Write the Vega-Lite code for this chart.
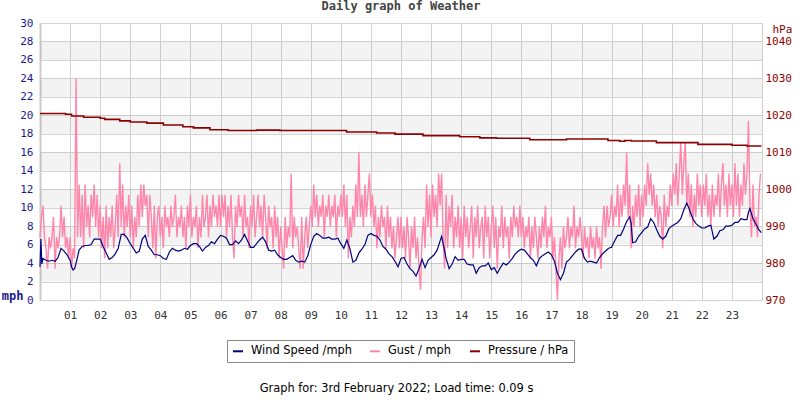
{
  "$schema": "https://vega.github.io/schema/vega-lite/v6.json",
  "width": 722,
  "height": 277,
  "autosize": {"type": "none"},
  "padding": {"left": 40, "top": 23, "right": 38, "bottom": 100},
  "background": "white",
  "title": {"text": "Daily graph of Weather", "font": "DejaVu Sans Mono", "fontSize": 12, "fontWeight": "bold", "color": "#444444", "anchor": "middle", "offset": 4},
  "config": {
    "view": {"stroke": "#d0d0d0", "strokeWidth": 1},
    "axis": {"gridColor": "#d3d3d3", "gridWidth": 1, "ticks": false, "domain": false, "labelFont": "DejaVu Sans Mono", "labelFontSize": 11, "labelOverlap": false, "labelBound": false, "labelFlush": false}
  },
  "datasets": {
    "bands": [{"lo": 2, "hi": 4}, {"lo": 6, "hi": 8}, {"lo": 10, "hi": 12}, {"lo": 14, "hi": 16}, {"lo": 18, "hi": 20}, {"lo": 22, "hi": 24}, {"lo": 26, "hi": 28}],
    "wind": [
      {"h":0,"v":3.6},{"h":0.03,"v":6.6},{"h":0.06,"v":3.9},{"h":0.1,"v":4.5},{"h":0.2,"v":4.3},{"h":0.3,"v":4.2},{"h":0.4,"v":4.3},{"h":0.5,"v":4.2},{"h":0.6,"v":4.6},{"h":0.7,"v":5.6},{"h":0.8,"v":5.3},{"h":0.9,"v":4.9},
      {"h":1.0,"v":4.3},{"h":1.05,"v":3.6},{"h":1.1,"v":3.25},{"h":1.15,"v":3.4},{"h":1.2,"v":4.0},{"h":1.3,"v":5.4},{"h":1.4,"v":5.8},{"h":1.5,"v":5.9},{"h":1.6,"v":5.9},{"h":1.7,"v":6.0},{"h":1.8,"v":6.6},{"h":1.9,"v":6.6},
      {"h":2.0,"v":6.6},{"h":2.1,"v":5.8},{"h":2.2,"v":5.1},{"h":2.3,"v":4.4},{"h":2.4,"v":4.6},{"h":2.5,"v":5.0},{"h":2.6,"v":5.6},{"h":2.7,"v":7.1},{"h":2.8,"v":7.1},{"h":2.9,"v":6.7},
      {"h":3.0,"v":6.1},{"h":3.1,"v":5.6},{"h":3.2,"v":5.1},{"h":3.3,"v":5.3},{"h":3.4,"v":6.6},{"h":3.5,"v":7.0},{"h":3.6,"v":5.8},{"h":3.7,"v":5.4},{"h":3.8,"v":4.9},{"h":3.9,"v":4.9},
      {"h":4.0,"v":4.8},{"h":4.1,"v":4.5},{"h":4.2,"v":4.4},{"h":4.3,"v":5.2},{"h":4.4,"v":5.6},{"h":4.5,"v":5.4},{"h":4.6,"v":5.3},{"h":4.7,"v":5.4},{"h":4.8,"v":5.6},{"h":4.9,"v":5.5},
      {"h":5.0,"v":5.9},{"h":5.1,"v":6.1},{"h":5.2,"v":6.1},{"h":5.3,"v":5.8},{"h":5.4,"v":5.3},{"h":5.5,"v":5.7},{"h":5.6,"v":5.9},{"h":5.7,"v":6.3},{"h":5.8,"v":6.1},{"h":5.9,"v":6.6},
      {"h":6.0,"v":7.0},{"h":6.1,"v":6.9},{"h":6.2,"v":6.7},{"h":6.3,"v":6.0},{"h":6.4,"v":6.0},{"h":6.5,"v":6.4},{"h":6.6,"v":6.1},{"h":6.7,"v":6.5},{"h":6.8,"v":7.1},{"h":6.9,"v":6.4},
      {"h":7.0,"v":5.7},{"h":7.1,"v":5.7},{"h":7.2,"v":6.1},{"h":7.3,"v":6.5},{"h":7.4,"v":6.8},{"h":7.5,"v":6.3},{"h":7.6,"v":5.4},{"h":7.7,"v":5.3},{"h":7.8,"v":5.4},{"h":7.9,"v":4.9},
      {"h":8.0,"v":4.6},{"h":8.1,"v":4.4},{"h":8.2,"v":4.4},{"h":8.3,"v":4.6},{"h":8.4,"v":4.8},{"h":8.5,"v":4.3},{"h":8.6,"v":4.1},{"h":8.7,"v":4.2},{"h":8.8,"v":4.1},{"h":8.9,"v":4.8},
      {"h":9.0,"v":6.0},{"h":9.1,"v":6.9},{"h":9.2,"v":7.2},{"h":9.3,"v":7.0},{"h":9.4,"v":6.7},{"h":9.5,"v":6.7},{"h":9.6,"v":6.8},{"h":9.7,"v":6.6},{"h":9.8,"v":6.6},{"h":9.9,"v":6.7},
      {"h":10.0,"v":6.1},{"h":10.1,"v":5.6},{"h":10.2,"v":6.5},{"h":10.3,"v":5.6},{"h":10.4,"v":4.1},{"h":10.5,"v":4.3},{"h":10.6,"v":5.1},{"h":10.7,"v":5.5},{"h":10.8,"v":6.0},{"h":10.9,"v":7.0},
      {"h":11.0,"v":7.2},{"h":11.1,"v":7.0},{"h":11.2,"v":6.9},{"h":11.3,"v":6.5},{"h":11.4,"v":5.8},{"h":11.5,"v":5.5},{"h":11.6,"v":5.0},{"h":11.7,"v":4.7},{"h":11.8,"v":4.2},{"h":11.9,"v":3.6},
      {"h":12.0,"v":4.5},{"h":12.1,"v":4.6},{"h":12.2,"v":3.9},{"h":12.3,"v":3.4},{"h":12.4,"v":3.1},{"h":12.5,"v":2.6},{"h":12.6,"v":3.4},{"h":12.7,"v":4.4},{"h":12.8,"v":3.5},{"h":12.9,"v":4.3},
      {"h":13.0,"v":4.6},{"h":13.1,"v":4.9},{"h":13.2,"v":5.4},{"h":13.3,"v":6.4},{"h":13.35,"v":6.9},{"h":13.4,"v":6.1},{"h":13.5,"v":4.5},{"h":13.6,"v":3.4},{"h":13.7,"v":3.9},{"h":13.8,"v":4.7},{"h":13.9,"v":4.3},
      {"h":14.0,"v":4.4},{"h":14.1,"v":4.4},{"h":14.2,"v":3.9},{"h":14.3,"v":3.8},{"h":14.4,"v":3.8},{"h":14.5,"v":2.9},{"h":14.6,"v":3.5},{"h":14.7,"v":3.7},{"h":14.8,"v":3.7},{"h":14.9,"v":4.0},
      {"h":15.0,"v":3.3},{"h":15.1,"v":3.5},{"h":15.2,"v":2.9},{"h":15.3,"v":3.5},{"h":15.4,"v":4.0},{"h":15.5,"v":3.8},{"h":15.6,"v":4.1},{"h":15.7,"v":4.5},{"h":15.8,"v":5.0},{"h":15.9,"v":5.3},
      {"h":16.0,"v":5.5},{"h":16.1,"v":5.4},{"h":16.2,"v":5.0},{"h":16.3,"v":4.6},{"h":16.4,"v":4.3},{"h":16.5,"v":3.7},{"h":16.6,"v":4.5},{"h":16.7,"v":4.8},{"h":16.8,"v":5.0},{"h":16.9,"v":5.2},
      {"h":17.0,"v":4.9},{"h":17.1,"v":4.2},{"h":17.2,"v":2.9},{"h":17.3,"v":2.2},{"h":17.4,"v":2.9},{"h":17.5,"v":4.1},{"h":17.6,"v":4.4},{"h":17.7,"v":4.8},{"h":17.8,"v":5.2},{"h":17.9,"v":5.5},
      {"h":18.0,"v":5.5},{"h":18.1,"v":4.5},{"h":18.2,"v":4.1},{"h":18.3,"v":4.2},{"h":18.4,"v":4.1},{"h":18.5,"v":4.0},{"h":18.6,"v":4.6},{"h":18.7,"v":5.0},{"h":18.8,"v":5.3},{"h":18.9,"v":5.6},
      {"h":19.0,"v":5.7},{"h":19.1,"v":6.4},{"h":19.2,"v":7.0},{"h":19.3,"v":7.0},{"h":19.4,"v":7.7},{"h":19.5,"v":8.5},{"h":19.6,"v":9.0},{"h":19.65,"v":8.3},{"h":19.7,"v":6.2},{"h":19.8,"v":6.3},{"h":19.9,"v":6.9},
      {"h":20.0,"v":7.3},{"h":20.1,"v":7.7},{"h":20.2,"v":7.9},{"h":20.3,"v":8.8},{"h":20.4,"v":8.4},{"h":20.5,"v":7.6},{"h":20.6,"v":6.9},{"h":20.7,"v":6.6},{"h":20.8,"v":6.9},{"h":20.9,"v":7.7},
      {"h":21.0,"v":8.0},{"h":21.1,"v":8.2},{"h":21.2,"v":8.4},{"h":21.3,"v":8.8},{"h":21.4,"v":9.75},{"h":21.5,"v":10.5},{"h":21.6,"v":9.7},{"h":21.7,"v":8.8},{"h":21.8,"v":8.3},{"h":21.9,"v":8.0},
      {"h":22.0,"v":7.8},{"h":22.1,"v":7.8},{"h":22.2,"v":8.0},{"h":22.3,"v":8.1},{"h":22.4,"v":6.6},{"h":22.5,"v":6.9},{"h":22.6,"v":7.5},{"h":22.7,"v":7.6},{"h":22.8,"v":8.0},{"h":22.9,"v":8.0},
      {"h":23.0,"v":8.1},{"h":23.1,"v":8.4},{"h":23.2,"v":8.4},{"h":23.3,"v":8.8},{"h":23.4,"v":8.7},{"h":23.5,"v":8.7},{"h":23.55,"v":9.5},{"h":23.6,"v":9.9},{"h":23.7,"v":8.8},{"h":23.8,"v":8.2},{"h":23.9,"v":7.6},{"h":23.98,"v":7.3}
    ],
    "gust": [
      {"h":0.00,"v":6.8},{"h":0.05,"v":9.0},{"h":0.10,"v":10.2},{"h":0.15,"v":6.8},{"h":0.20,"v":5.6},{"h":0.25,"v":3.4},{"h":0.30,"v":6.8},{"h":0.35,"v":5.6},{"h":0.40,"v":6.8},{"h":0.45,"v":9.0},{"h":0.50,"v":3.4},{"h":0.55,"v":6.8},{"h":0.60,"v":5.6},{"h":0.65,"v":6.8},{"h":0.70,"v":10.2},{"h":0.75,"v":6.8},{"h":0.80,"v":9.0},{"h":0.85,"v":5.6},{"h":0.90,"v":6.8},{"h":0.95,"v":4.5},
      {"h":1.00,"v":6.8},{"h":1.05,"v":3.4},{"h":1.10,"v":5.6},{"h":1.15,"v":4.5},{"h":1.20,"v":24.0},{"h":1.25,"v":6.8},{"h":1.30,"v":12.5},{"h":1.35,"v":6.8},{"h":1.40,"v":11.4},{"h":1.45,"v":5.6},{"h":1.50,"v":12.5},{"h":1.55,"v":7.9},{"h":1.60,"v":10.2},{"h":1.65,"v":6.8},{"h":1.70,"v":11.4},{"h":1.75,"v":9.0},{"h":1.80,"v":12.5},{"h":1.85,"v":7.9},{"h":1.90,"v":11.4},{"h":1.95,"v":6.8},
      {"h":2.00,"v":10.2},{"h":2.05,"v":5.6},{"h":2.10,"v":9.0},{"h":2.15,"v":4.5},{"h":2.20,"v":10.2},{"h":2.25,"v":5.6},{"h":2.30,"v":9.0},{"h":2.35,"v":6.8},{"h":2.40,"v":10.2},{"h":2.45,"v":5.6},{"h":2.50,"v":7.9},{"h":2.55,"v":11.4},{"h":2.60,"v":6.8},{"h":2.65,"v":14.8},{"h":2.70,"v":7.9},{"h":2.75,"v":12.5},{"h":2.80,"v":6.8},{"h":2.85,"v":10.2},{"h":2.90,"v":7.9},{"h":2.95,"v":11.4},
      {"h":3.00,"v":6.8},{"h":3.05,"v":10.2},{"h":3.10,"v":5.6},{"h":3.15,"v":9.0},{"h":3.20,"v":6.8},{"h":3.25,"v":11.4},{"h":3.30,"v":7.9},{"h":3.35,"v":12.5},{"h":3.40,"v":9.0},{"h":3.45,"v":12.5},{"h":3.50,"v":10.2},{"h":3.55,"v":11.4},{"h":3.60,"v":6.8},{"h":3.65,"v":11.4},{"h":3.70,"v":9.0},{"h":3.75,"v":5.6},{"h":3.80,"v":10.2},{"h":3.85,"v":4.5},{"h":3.90,"v":9.0},{"h":3.95,"v":10.2},
      {"h":4.00,"v":6.8},{"h":4.05,"v":9.0},{"h":4.10,"v":5.6},{"h":4.15,"v":10.2},{"h":4.20,"v":7.9},{"h":4.25,"v":9.0},{"h":4.30,"v":6.8},{"h":4.35,"v":10.2},{"h":4.40,"v":7.9},{"h":4.45,"v":9.0},{"h":4.50,"v":11.4},{"h":4.55,"v":6.8},{"h":4.60,"v":9.0},{"h":4.65,"v":7.9},{"h":4.70,"v":10.2},{"h":4.75,"v":6.8},{"h":4.80,"v":9.0},{"h":4.85,"v":5.6},{"h":4.90,"v":10.2},{"h":4.95,"v":7.9},
      {"h":5.00,"v":11.4},{"h":5.05,"v":6.8},{"h":5.10,"v":9.0},{"h":5.15,"v":7.9},{"h":5.20,"v":10.2},{"h":5.25,"v":5.6},{"h":5.30,"v":9.0},{"h":5.35,"v":6.8},{"h":5.40,"v":11.4},{"h":5.45,"v":7.9},{"h":5.50,"v":9.0},{"h":5.55,"v":11.4},{"h":5.60,"v":6.8},{"h":5.65,"v":10.2},{"h":5.70,"v":7.9},{"h":5.75,"v":11.4},{"h":5.80,"v":9.0},{"h":5.85,"v":10.2},{"h":5.90,"v":7.9},{"h":5.95,"v":11.4},
      {"h":6.00,"v":7.9},{"h":6.05,"v":11.4},{"h":6.10,"v":9.0},{"h":6.15,"v":11.4},{"h":6.20,"v":6.8},{"h":6.25,"v":10.2},{"h":6.30,"v":7.9},{"h":6.35,"v":11.4},{"h":6.40,"v":6.8},{"h":6.45,"v":4.5},{"h":6.50,"v":10.2},{"h":6.55,"v":7.9},{"h":6.60,"v":11.4},{"h":6.65,"v":9.0},{"h":6.70,"v":10.2},{"h":6.75,"v":6.8},{"h":6.80,"v":11.4},{"h":6.85,"v":7.9},{"h":6.90,"v":9.0},{"h":6.95,"v":5.6},
      {"h":7.00,"v":10.2},{"h":7.05,"v":7.9},{"h":7.10,"v":11.4},{"h":7.15,"v":6.8},{"h":7.20,"v":9.0},{"h":7.25,"v":11.4},{"h":7.30,"v":7.9},{"h":7.35,"v":10.2},{"h":7.40,"v":6.8},{"h":7.45,"v":11.4},{"h":7.50,"v":9.0},{"h":7.55,"v":5.6},{"h":7.60,"v":10.2},{"h":7.65,"v":7.9},{"h":7.70,"v":9.0},{"h":7.75,"v":5.6},{"h":7.80,"v":10.2},{"h":7.85,"v":6.8},{"h":7.90,"v":9.0},{"h":7.95,"v":4.5},
      {"h":8.00,"v":7.9},{"h":8.05,"v":5.6},{"h":8.10,"v":3.4},{"h":8.15,"v":9.0},{"h":8.20,"v":5.6},{"h":8.25,"v":7.9},{"h":8.30,"v":6.8},{"h":8.35,"v":13.7},{"h":8.40,"v":5.6},{"h":8.45,"v":9.0},{"h":8.50,"v":6.8},{"h":8.55,"v":7.9},{"h":8.60,"v":5.6},{"h":8.65,"v":3.4},{"h":8.70,"v":9.0},{"h":8.75,"v":3.4},{"h":8.80,"v":6.8},{"h":8.85,"v":9.0},{"h":8.90,"v":5.6},{"h":8.95,"v":7.9},
      {"h":9.00,"v":10.2},{"h":9.05,"v":7.9},{"h":9.10,"v":12.5},{"h":9.15,"v":9.0},{"h":9.20,"v":11.4},{"h":9.25,"v":7.9},{"h":9.30,"v":10.2},{"h":9.35,"v":9.0},{"h":9.40,"v":11.4},{"h":9.45,"v":6.8},{"h":9.50,"v":10.2},{"h":9.55,"v":9.0},{"h":9.60,"v":11.4},{"h":9.65,"v":7.9},{"h":9.70,"v":10.2},{"h":9.75,"v":9.0},{"h":9.80,"v":11.4},{"h":9.85,"v":6.8},{"h":9.90,"v":10.2},{"h":9.95,"v":9.0},
      {"h":10.00,"v":11.4},{"h":10.05,"v":9.0},{"h":10.10,"v":12.5},{"h":10.15,"v":7.9},{"h":10.20,"v":11.4},{"h":10.25,"v":4.5},{"h":10.30,"v":9.0},{"h":10.35,"v":6.8},{"h":10.40,"v":10.2},{"h":10.45,"v":7.9},{"h":10.50,"v":12.5},{"h":10.55,"v":9.0},{"h":10.60,"v":16.0},{"h":10.65,"v":9.0},{"h":10.70,"v":11.4},{"h":10.75,"v":7.9},{"h":10.80,"v":12.5},{"h":10.85,"v":9.0},{"h":10.90,"v":11.4},{"h":10.95,"v":13.7},
      {"h":11.00,"v":9.0},{"h":11.05,"v":11.4},{"h":11.10,"v":7.9},{"h":11.15,"v":10.2},{"h":11.20,"v":5.6},{"h":11.25,"v":9.0},{"h":11.30,"v":6.8},{"h":11.35,"v":10.2},{"h":11.40,"v":7.9},{"h":11.45,"v":9.0},{"h":11.50,"v":5.6},{"h":11.55,"v":10.2},{"h":11.60,"v":6.8},{"h":11.65,"v":9.0},{"h":11.70,"v":5.6},{"h":11.75,"v":7.9},{"h":11.80,"v":4.5},{"h":11.85,"v":6.8},{"h":11.90,"v":9.0},{"h":11.95,"v":5.6},
      {"h":12.00,"v":9.0},{"h":12.05,"v":5.6},{"h":12.10,"v":7.9},{"h":12.15,"v":4.5},{"h":12.20,"v":9.0},{"h":12.25,"v":6.8},{"h":12.30,"v":3.4},{"h":12.35,"v":7.9},{"h":12.40,"v":5.6},{"h":12.45,"v":9.0},{"h":12.50,"v":4.5},{"h":12.55,"v":6.8},{"h":12.60,"v":3.4},{"h":12.65,"v":1.1},{"h":12.70,"v":6.8},{"h":12.75,"v":9.0},{"h":12.80,"v":5.6},{"h":12.85,"v":12.5},{"h":12.90,"v":7.9},{"h":12.95,"v":11.4},
      {"h":13.00,"v":6.8},{"h":13.05,"v":12.5},{"h":13.10,"v":9.0},{"h":13.15,"v":11.4},{"h":13.20,"v":7.9},{"h":13.25,"v":13.7},{"h":13.30,"v":10.2},{"h":13.35,"v":13.7},{"h":13.40,"v":6.8},{"h":13.45,"v":3.4},{"h":13.50,"v":11.4},{"h":13.55,"v":5.6},{"h":13.60,"v":10.2},{"h":13.65,"v":7.9},{"h":13.70,"v":11.4},{"h":13.75,"v":5.6},{"h":13.80,"v":9.0},{"h":13.85,"v":6.8},{"h":13.90,"v":10.2},{"h":13.95,"v":5.6},
      {"h":14.00,"v":9.0},{"h":14.05,"v":4.5},{"h":14.10,"v":10.2},{"h":14.15,"v":6.8},{"h":14.20,"v":9.0},{"h":14.25,"v":5.6},{"h":14.30,"v":7.9},{"h":14.35,"v":10.2},{"h":14.40,"v":4.5},{"h":14.45,"v":9.0},{"h":14.50,"v":6.8},{"h":14.55,"v":10.2},{"h":14.60,"v":5.6},{"h":14.65,"v":7.9},{"h":14.70,"v":9.0},{"h":14.75,"v":4.5},{"h":14.80,"v":10.2},{"h":14.85,"v":6.8},{"h":14.90,"v":9.0},{"h":14.95,"v":4.5},
      {"h":15.00,"v":7.9},{"h":15.05,"v":10.2},{"h":15.10,"v":5.6},{"h":15.15,"v":9.0},{"h":15.20,"v":3.4},{"h":15.25,"v":7.9},{"h":15.30,"v":6.8},{"h":15.35,"v":10.2},{"h":15.40,"v":5.6},{"h":15.45,"v":9.0},{"h":15.50,"v":6.8},{"h":15.55,"v":7.9},{"h":15.60,"v":4.5},{"h":15.65,"v":9.0},{"h":15.70,"v":6.8},{"h":15.75,"v":10.2},{"h":15.80,"v":7.9},{"h":15.85,"v":9.0},{"h":15.90,"v":6.8},{"h":15.95,"v":10.2},
      {"h":16.00,"v":6.8},{"h":16.05,"v":9.0},{"h":16.10,"v":5.6},{"h":16.15,"v":7.9},{"h":16.20,"v":6.8},{"h":16.25,"v":9.0},{"h":16.30,"v":4.5},{"h":16.35,"v":7.9},{"h":16.40,"v":5.6},{"h":16.45,"v":9.0},{"h":16.50,"v":6.8},{"h":16.55,"v":4.5},{"h":16.60,"v":7.9},{"h":16.65,"v":5.6},{"h":16.70,"v":9.0},{"h":16.75,"v":6.8},{"h":16.80,"v":10.2},{"h":16.85,"v":5.6},{"h":16.90,"v":7.9},{"h":16.95,"v":6.8},
      {"h":17.00,"v":9.0},{"h":17.05,"v":4.5},{"h":17.10,"v":6.8},{"h":17.15,"v":3.4},{"h":17.20,"v":0.0},{"h":17.25,"v":4.5},{"h":17.30,"v":6.8},{"h":17.35,"v":3.4},{"h":17.40,"v":7.9},{"h":17.45,"v":5.6},{"h":17.50,"v":6.8},{"h":17.55,"v":9.0},{"h":17.60,"v":5.6},{"h":17.65,"v":7.9},{"h":17.70,"v":6.8},{"h":17.75,"v":10.2},{"h":17.80,"v":5.6},{"h":17.85,"v":7.9},{"h":17.90,"v":6.8},{"h":17.95,"v":9.0},
      {"h":18.00,"v":6.8},{"h":18.05,"v":4.5},{"h":18.10,"v":7.9},{"h":18.15,"v":5.6},{"h":18.20,"v":6.8},{"h":18.25,"v":4.5},{"h":18.30,"v":7.9},{"h":18.35,"v":5.6},{"h":18.40,"v":6.8},{"h":18.45,"v":4.5},{"h":18.50,"v":7.9},{"h":18.55,"v":5.6},{"h":18.60,"v":6.8},{"h":18.65,"v":3.4},{"h":18.70,"v":7.9},{"h":18.75,"v":10.2},{"h":18.80,"v":6.8},{"h":18.85,"v":10.2},{"h":18.90,"v":7.9},{"h":18.95,"v":9.0},
      {"h":19.00,"v":11.4},{"h":19.05,"v":7.9},{"h":19.10,"v":10.2},{"h":19.15,"v":9.0},{"h":19.20,"v":12.5},{"h":19.25,"v":7.9},{"h":19.30,"v":11.4},{"h":19.35,"v":9.0},{"h":19.40,"v":12.5},{"h":19.45,"v":10.2},{"h":19.50,"v":16.0},{"h":19.55,"v":9.0},{"h":19.60,"v":12.5},{"h":19.65,"v":5.6},{"h":19.70,"v":10.2},{"h":19.75,"v":7.9},{"h":19.80,"v":11.4},{"h":19.85,"v":9.0},{"h":19.90,"v":12.5},{"h":19.95,"v":7.9},
      {"h":20.00,"v":11.4},{"h":20.05,"v":9.0},{"h":20.10,"v":12.5},{"h":20.15,"v":10.2},{"h":20.20,"v":14.8},{"h":20.25,"v":11.4},{"h":20.30,"v":13.7},{"h":20.35,"v":10.2},{"h":20.40,"v":12.5},{"h":20.45,"v":9.0},{"h":20.50,"v":11.4},{"h":20.55,"v":7.9},{"h":20.60,"v":10.2},{"h":20.65,"v":9.0},{"h":20.70,"v":5.6},{"h":20.75,"v":11.4},{"h":20.80,"v":7.9},{"h":20.85,"v":10.2},{"h":20.90,"v":9.0},{"h":20.95,"v":12.5},
      {"h":21.00,"v":10.2},{"h":21.05,"v":13.7},{"h":21.10,"v":11.4},{"h":21.15,"v":14.8},{"h":21.20,"v":10.2},{"h":21.25,"v":13.7},{"h":21.30,"v":17.1},{"h":21.35,"v":11.4},{"h":21.40,"v":14.8},{"h":21.45,"v":17.1},{"h":21.50,"v":10.2},{"h":21.55,"v":13.7},{"h":21.60,"v":9.0},{"h":21.65,"v":12.5},{"h":21.70,"v":7.9},{"h":21.75,"v":11.4},{"h":21.80,"v":9.0},{"h":21.85,"v":13.7},{"h":21.90,"v":10.2},{"h":21.95,"v":12.5},
      {"h":22.00,"v":9.0},{"h":22.05,"v":12.5},{"h":22.10,"v":10.2},{"h":22.15,"v":13.7},{"h":22.20,"v":9.0},{"h":22.25,"v":11.4},{"h":22.30,"v":7.9},{"h":22.35,"v":12.5},{"h":22.40,"v":9.0},{"h":22.45,"v":11.4},{"h":22.50,"v":10.2},{"h":22.55,"v":13.7},{"h":22.60,"v":9.0},{"h":22.65,"v":12.5},{"h":22.70,"v":14.8},{"h":22.75,"v":10.2},{"h":22.80,"v":12.5},{"h":22.85,"v":9.0},{"h":22.90,"v":13.7},{"h":22.95,"v":10.2},
      {"h":23.00,"v":12.5},{"h":23.05,"v":9.0},{"h":23.10,"v":14.8},{"h":23.15,"v":10.2},{"h":23.20,"v":13.7},{"h":23.25,"v":9.0},{"h":23.30,"v":12.5},{"h":23.35,"v":10.2},{"h":23.40,"v":14.8},{"h":23.45,"v":11.4},{"h":23.50,"v":13.7},{"h":23.55,"v":19.4},{"h":23.60,"v":10.2},{"h":23.65,"v":6.8},{"h":23.70,"v":12.5},{"h":23.75,"v":7.9},{"h":23.80,"v":9.0},{"h":23.85,"v":6.8},{"h":23.90,"v":11.4},{"h":23.95,"v":13.7}
    ],
    "pres": [
      {"h":0,"p":1020.5},{"h":0.85,"p":1020.3},{"h":1.05,"p":1019.8},{"h":1.45,"p":1019.5},{"h":2.0,"p":1019.2},{"h":2.15,"p":1018.9},{"h":2.65,"p":1018.5},{"h":3.0,"p":1018.2},{"h":3.55,"p":1017.9},{"h":4.1,"p":1017.4},{"h":4.75,"p":1016.9},{"h":5.1,"p":1016.6},{"h":5.65,"p":1016.1},{"h":6.25,"p":1015.9},{"h":7.2,"p":1016.0},{"h":7.97,"p":1015.9},{"h":10.19,"p":1015.5},{"h":11.19,"p":1015.2},{"h":11.8,"p":1014.9},{"h":12.73,"p":1014.5},{"h":13.95,"p":1014.2},{"h":14.62,"p":1013.9},{"h":15.17,"p":1013.8},{"h":16.28,"p":1013.4},{"h":17.5,"p":1013.6},{"h":18.88,"p":1013.2},{"h":19.27,"p":1013.0},{"h":19.44,"p":1013.2},{"h":19.66,"p":1013.05},{"h":20.49,"p":1012.6},{"h":21.87,"p":1012.15},{"h":23.0,"p":1011.9},{"h":23.5,"p":1011.7},{"h":23.98,"p":1011.7}
    ]
  },
  "layer": [
    {
      "layer": [
        {
          "data": {"name": "bands"},
          "mark": {"type": "rect", "fill": "#000000", "opacity": 0.047},
          "encoding": {
            "x": {"datum": 0, "type": "quantitative"},
            "x2": {"datum": 24},
            "y": {"field": "lo", "type": "quantitative", "scale": {"domain": [0, 30], "nice": false},
              "axis": {"values": [0,2,4,6,8,10,12,14,16,18,20,22,24,26,28,30], "tickCount": 100, "format": "d", "labelColor": "#1a1a8c", "labelPadding": 7, "grid": true,
                "domain": true, "domainColor": "#cccccc", "domainWidth": 2,
                "title": "mph", "titleAngle": 0, "titleX": -17, "titleY": 272, "titleAlign": "right", "titleBaseline": "middle",
                "titleFont": "DejaVu Sans Mono", "titleFontSize": 12, "titleFontWeight": "bold", "titleColor": "#1a1a8c"}},
            "y2": {"field": "hi"}
          }
        },
        {
          "data": {"name": "gust"},
          "mark": {"type": "line", "strokeWidth": 1.4, "interpolate": "linear"},
          "encoding": {
            "x": {"field": "h", "type": "quantitative", "scale": {"domain": [0, 24], "nice": false, "zero": false},
              "axis": {"values": [1,2,3,4,5,6,7,8,9,10,11,12,13,14,15,16,17,18,19,20,21,22,23], "tickCount": 100, "format": "02d", "labelColor": "#333333", "labelPadding": 9, "grid": true,
                "title": "Graph for: 3rd February 2022; Load time: 0.09 s", "titleFont": "DejaVu Sans", "titleFontSize": 11.4, "titleFontWeight": "normal", "titleColor": "#000000",
                "titleX": 356, "titleY": 88, "titleAlign": "center", "titleBaseline": "middle", "titleAnchor": null}},
            "y": {"field": "v", "type": "quantitative"},
            "color": {"datum": "Gust / mph", "type": "nominal",
              "scale": {"domain": ["Wind Speed /mph", "Gust / mph", "Pressure / hPa"], "range": ["#000080", "#ff85aa", "#8b0000"]},
              "legend": {"title": null, "orient": "none", "legendX": 187, "legendY": 317, "direction": "horizontal",
                "symbolType": "stroke", "symbolStrokeWidth": 2, "symbolSize": 100, "labelFont": "DejaVu Sans", "labelFontSize": 11.4, "labelColor": "#000000",
                "labelOffset": 7, "columnPadding": 14, "padding": 5, "strokeColor": "#888888", "fillColor": "#ffffff", "labelLimit": 300}}
          }
        },
        {
          "data": {"name": "wind"},
          "mark": {"type": "line", "strokeWidth": 1.2, "interpolate": "linear"},
          "encoding": {
            "x": {"field": "h", "type": "quantitative"},
            "y": {"field": "v", "type": "quantitative"},
            "color": {"datum": "Wind Speed /mph", "type": "nominal"}
          }
        }
      ]
    },
    {
      "data": {"name": "pres"},
      "mark": {"type": "line", "strokeWidth": 1.6, "interpolate": "step-after"},
      "encoding": {
        "x": {"field": "h", "type": "quantitative"},
        "y": {"field": "p", "type": "quantitative", "scale": {"domain": [970, 1045], "nice": false, "zero": false},
          "axis": {"orient": "right", "values": [970,980,990,1000,1010,1020,1030,1040], "tickCount": 100, "format": "d", "labelColor": "#8b0000", "labelPadding": 3, "grid": false,
            "title": "hPa", "titleAngle": 0, "titleX": 10, "titleY": 6, "titleAlign": "left", "titleBaseline": "middle",
            "titleFont": "DejaVu Sans Mono", "titleFontSize": 11, "titleFontWeight": "normal", "titleColor": "#8b0000"}},
        "color": {"datum": "Pressure / hPa", "type": "nominal"}
      }
    }
  ],
  "resolve": {"scale": {"y": "independent"}}
}
